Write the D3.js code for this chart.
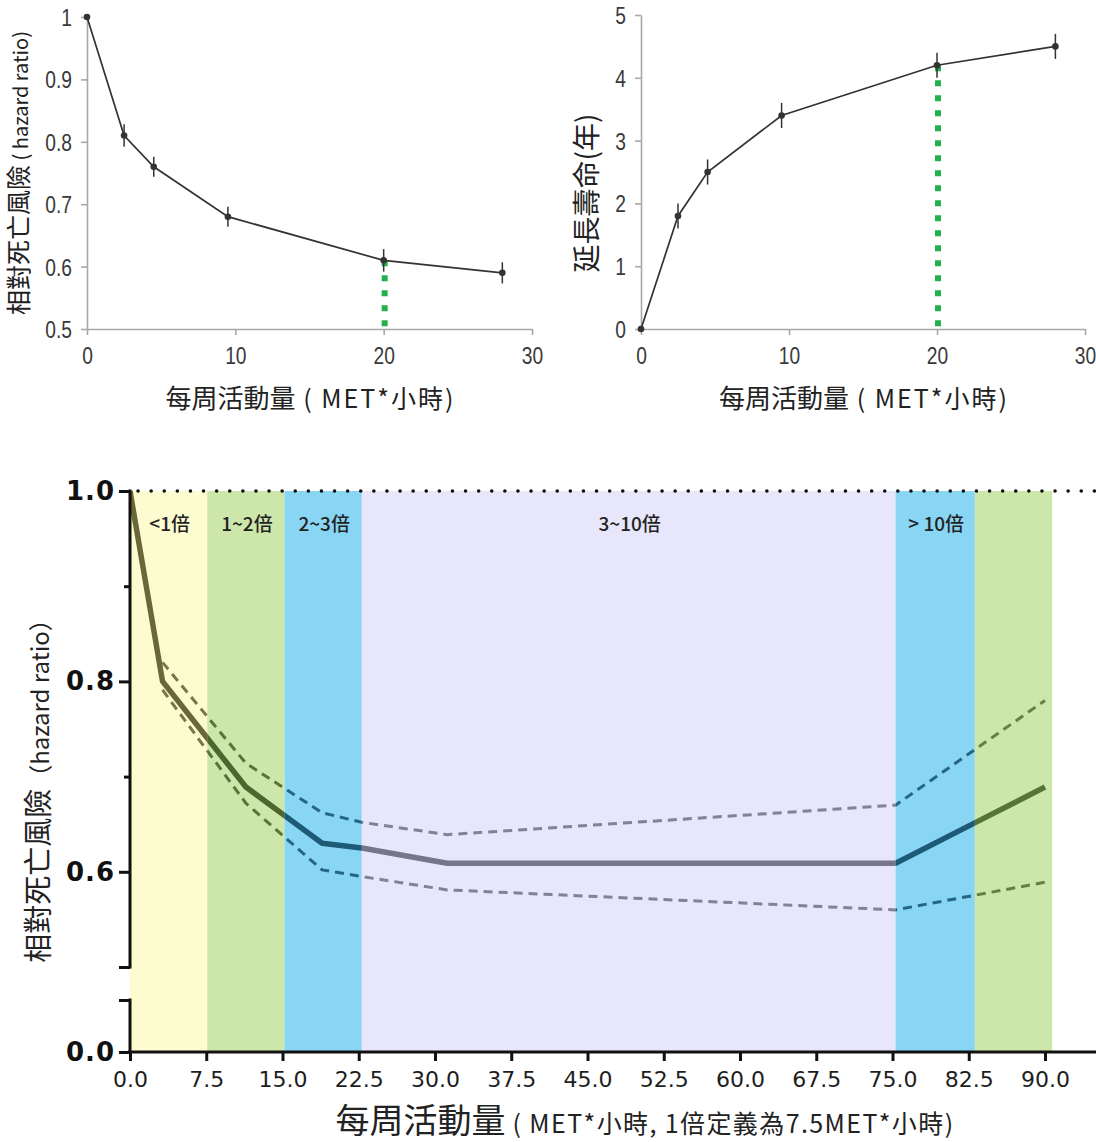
<!DOCTYPE html>
<html lang="zh-Hant">
<head>
<meta charset="UTF-8">
<title>每周活動量與死亡風險</title>
<style>
  body { margin: 0; padding: 0; background: #fff; overflow: hidden; }
  svg { display: block; }
  .cjk { font-family: "Noto Sans CJK TC", "Noto Sans", sans-serif; }
</style>
</head>
<body>
<script src="https://d3js.org/d3.v7.min.js"></script>
<script>
// --- top charts data ---
const metHours = [0, 2.5, 4.5, 9.5, 20, 28];
const hazardRatio = [1.0, 0.81, 0.76, 0.68, 0.61, 0.59];
const hazardErr = [0, 0.018, 0.016, 0.016, 0.018, 0.017];
const lifeGain = [0, 1.8, 2.5, 3.4, 4.2, 4.5];
const lifeErr = [0, 0.2, 0.2, 0.2, 0.2, 0.2];
const topXTicks = [0, 10, 20, 30];
const hazardTicks = [0.5, 0.6, 0.7, 0.8, 0.9, 1];
const lifeTicks = [0, 1, 2, 3, 4, 5];
const markMet = 20;

// --- bottom chart data ---
const doseX = [0, 3.2, 11.4, 18.9, 22.8, 31.2, 75.3, 90];
const doseHR = [1.0, 0.80, 0.689, 0.630, 0.625, 0.609, 0.609, 0.689];
const ciX = [3.2, 11.4, 18.9, 22.8, 31.2, 75.3, 90];
const ciUpper = [0.82, 0.714, 0.662, 0.652, 0.639, 0.67, 0.78];
const ciLower = [0.791, 0.672, 0.602, 0.595, 0.581, 0.56, 0.589];
const bandEdges = [0, 7.6, 15.2, 22.8, 75.3, 83.1, 90.7];
const bandLabels = ["<1倍", "1~2倍", "2~3倍", "3~10倍", "> 10倍", ""];
const bandColors = ["#fdfcd1", "#cde6a9", "#88d5f4", "#e7e6fa", "#88d5f4", "#cde6a9"];
const bandLineColors = ["#6a673a", "#4c662e", "#1d5a76", "#75758c", "#1d5a76", "#567638"];
const bottomXTicks = [0, 7.5, 15, 22.5, 30, 37.5, 45, 52.5, 60, 67.5, 75, 82.5, 90];
const bottomYTicks = [0, 0.1, 0.5, 0.6, 0.7, 0.8, 0.9, 1.0];
const bottomYLabeled = [0, 0.6, 0.8, 1.0];

const W = 1096, H = 1142;
const svg = d3.select('body').append('svg')
    .attr('width', W)
    .attr('height', H);

// small chart with error bars
function drawSmall(x, y, vals, errs, yTicks, yLabel) {
    const g = svg.append('g');

    const xAxis = g.append('g')
        .attr('transform', `translate(0,${y.range()[0]})`)
        .call(d3.axisBottom(x).tickValues(topXTicks).tickSize(6).tickPadding(12).tickSizeOuter(0));
    const yAxis = g.append('g')
        .attr('transform', `translate(${x.range()[0]},0)`)
        .call(d3.axisLeft(y).tickValues(yTicks).tickSize(6).tickPadding(10).tickSizeOuter(0).tickFormat(d3.format('')));

    [xAxis, yAxis].forEach(a => {
        a.select('.domain').attr('stroke', '#a8a8a8').attr('stroke-width', 1.6);
        a.selectAll('.tick line').attr('stroke', '#a8a8a8').attr('stroke-width', 1.6);
        a.selectAll('.tick text')
            .attr('font-family', '"Liberation Sans", sans-serif')
            .attr('font-size', 24)
            .attr('fill', '#3a3a3a');
    });
    // narrow digits like the original
    xAxis.selectAll('.tick text').attr('transform', 'scale(0.8,1)');
    yAxis.selectAll('.tick text')
        .attr('dy', '0.35em')
        .attr('x', -15 / 0.8)
        .attr('transform', 'scale(0.8,1)');

    // green marker at 20 MET-h
    const mi = metHours.indexOf(markMet);
    g.append('line')
        .attr('x1', x(markMet) + 1).attr('x2', x(markMet) + 1)
        .attr('y1', y(vals[mi])).attr('y2', y.range()[0])
        .attr('stroke', '#22b14c')
        .attr('stroke-width', 6)
        .attr('stroke-dasharray', '6,9');

    const line = d3.line()
        .x((d, i) => x(metHours[i]))
        .y(d => y(d));
    g.append('path')
        .datum(vals)
        .attr('d', line)
        .attr('fill', 'none')
        .attr('stroke', '#333')
        .attr('stroke-width', 1.7);

    g.selectAll('.err')
        .data(vals)
        .enter()
        .append('line')
        .attr('x1', (d, i) => x(metHours[i]))
        .attr('x2', (d, i) => x(metHours[i]))
        .attr('y1', (d, i) => y(d + errs[i]))
        .attr('y2', (d, i) => y(d - errs[i]))
        .attr('stroke', '#333')
        .attr('stroke-width', 1.5);

    g.selectAll('.dot')
        .data(vals)
        .enter()
        .append('circle')
        .attr('cx', (d, i) => x(metHours[i]))
        .attr('cy', d => y(d))
        .attr('r', 3.3)
        .attr('fill', '#333');

    // x title
    const cx = (x.range()[0] + x.range()[1]) / 2 + 1;
    const xt = g.append('text')
        .attr('class', 'cjk')
        .attr('x', cx)
        .attr('y', 408)
        .attr('text-anchor', 'middle')
        .attr('fill', '#222');
    xt.append('tspan').attr('font-size', 26).text('每周活動量');
    xt.append('tspan').attr('font-size', 25).attr('letter-spacing', 2).text(' ( MET*小時)');

    // y title
    const yt = g.append('text')
        .attr('class', 'cjk')
        .attr('transform', `translate(${yLabel.x},${yLabel.y}) rotate(-90)`)
        .attr('text-anchor', 'middle')
        .attr('fill', '#222');
    yLabel.parts.forEach(p => yt.append('tspan').attr('font-size', p[1]).text(p[0]));
}

const xTL = d3.scaleLinear().domain([0, 30]).range([87, 532]);
const yTL = d3.scaleLinear().domain([0.5, 1]).range([329, 17]);
drawSmall(xTL, yTL, hazardRatio, hazardErr, hazardTicks,
    { x: 28, y: 173, parts: [['相對死亡風險', 25], [' ( hazard ratio)', 20]] });

const xTR = d3.scaleLinear().domain([0, 30]).range([641, 1085]);
const yTR = d3.scaleLinear().domain([0, 5]).range([329, 15]);
drawSmall(xTR, yTR, lifeGain, lifeErr, lifeTicks,
    { x: 597, y: 193, parts: [['延長壽命(年)', 28]] });

// --- bottom chart ---
const xB = d3.scaleLinear().domain([0, 90]).range([130, 1045]);
const yB = d3.scaleLinear().domain([0, 0.1, 0.5, 1.0]).range([1052, 1000, 967, 491]);
const gB = svg.append('g');

const bands = bandEdges.slice(0, -1).map((d, i) => ({ x0: d, x1: bandEdges[i + 1], i }));
gB.selectAll('.band')
    .data(bands)
    .enter()
    .append('rect')
    .attr('x', d => xB(d.x0))
    .attr('width', d => xB(d.x1) - xB(d.x0))
    .attr('y', yB(1.0))
    .attr('height', yB(0) - yB(1.0))
    .attr('fill', d => bandColors[d.i]);

const defs = svg.append('defs');
bands.forEach(b => {
    defs.append('clipPath').attr('id', 'band' + b.i)
        .append('rect')
        .attr('x', xB(b.x0)).attr('width', xB(b.x1) - xB(b.x0))
        .attr('y', 0).attr('height', H);
});

const lineB = d3.line().x(d => xB(d[0])).y(d => yB(d[1]));
const mainPts = doseX.map((d, i) => [d, doseHR[i]]);
const upPts = ciX.map((d, i) => [d, ciUpper[i]]);
const loPts = ciX.map((d, i) => [d, ciLower[i]]);

bands.forEach(b => {
    const gc = gB.append('g').attr('clip-path', `url(#band${b.i})`);
    [upPts, loPts].forEach(pts => {
        gc.append('path')
            .datum(pts)
            .attr('d', lineB)
            .attr('fill', 'none')
            .attr('stroke', bandLineColors[b.i])
            .attr('stroke-opacity', 0.9)
            .attr('stroke-width', 3)
            .attr('stroke-dasharray', '9,6');
    });
    gc.append('path')
        .datum(mainPts)
        .attr('d', lineB)
        .attr('fill', 'none')
        .attr('stroke', bandLineColors[b.i])
        .attr('stroke-width', 5.5)
        .attr('stroke-linejoin', 'round');
});

gB.selectAll('.blabel')
    .data(bands)
    .enter()
    .append('text')
    .attr('class', 'cjk')
    .attr('x', d => (xB(d.x0) + xB(d.x1)) / 2 + 1)
    .attr('y', 531)
    .attr('text-anchor', 'middle')
    .attr('font-size', 19)
    .attr('font-weight', 500)
    .attr('fill', '#222')
    .text(d => bandLabels[d.i]);

// reference line at 1.0
gB.append('line')
    .attr('x1', xB(0) + 8).attr('x2', W)
    .attr('y1', yB(1.0)).attr('y2', yB(1.0))
    .attr('stroke', '#111')
    .attr('stroke-width', 3.5)
    .attr('stroke-linecap', 'round')
    .attr('stroke-dasharray', '0.1,13');

// x axis
const xAxB = gB.append('g')
    .attr('transform', `translate(0,${yB(0)})`)
    .call(d3.axisBottom(xB).tickValues(bottomXTicks).tickSize(9).tickPadding(10).tickSizeOuter(0).tickFormat(d3.format('.1f')));
xAxB.select('.domain').remove();
xAxB.selectAll('.tick line').attr('stroke', '#111').attr('stroke-width', 3);
xAxB.selectAll('.tick text')
    .attr('font-family', '"DejaVu Sans", sans-serif')
    .attr('font-size', 22)
    .attr('fill', '#1e1e1e');
gB.append('line')
    .attr('x1', xB(0) - 2).attr('x2', W)
    .attr('y1', yB(0)).attr('y2', yB(0))
    .attr('stroke', '#111').attr('stroke-width', 3);

// y axis with break
const yAxB = gB.append('g')
    .attr('transform', `translate(${xB(0)},0)`)
    .call(d3.axisLeft(yB).tickValues(bottomYTicks).tickSize(11).tickPadding(4).tickSizeOuter(0)
        .tickFormat(d => bottomYLabeled.includes(d) ? d3.format('.1f')(d) : ''));
yAxB.select('.domain').remove();
yAxB.selectAll('.tick line')
    .attr('stroke', '#111').attr('stroke-width', 3)
    .attr('x2', d => (d === 0.9 || d === 0.7) ? -6 : -11);
yAxB.selectAll('.tick text')
    .attr('font-family', '"DejaVu Sans", sans-serif')
    .attr('font-weight', 'bold')
    .attr('font-size', 26)
    .attr('letter-spacing', 1)
    .attr('fill', '#111');
[[1.0, 0.5], [0.1, 0]].forEach(seg => {
    gB.append('line')
        .attr('x1', xB(0)).attr('x2', xB(0))
        .attr('y1', yB(seg[0]) - 1.5).attr('y2', yB(seg[1]) + 1.5)
        .attr('stroke', '#111').attr('stroke-width', 3);
});

// titles
const xtB = gB.append('text')
    .attr('class', 'cjk')
    .attr('x', 645)
    .attr('y', 1133)
    .attr('text-anchor', 'middle')
    .attr('fill', '#222');
xtB.append('tspan').attr('font-size', 34).text('每周活動量');
xtB.append('tspan').attr('font-size', 25).attr('letter-spacing', 1.4).text(' ( MET*小時, 1倍定義為7.5MET*小時)');

const ytB = gB.append('text')
    .attr('class', 'cjk')
    .attr('transform', 'translate(49,785) rotate(-90)')
    .attr('text-anchor', 'middle')
    .attr('fill', '#222');
ytB.append('tspan').attr('font-size', 29).text('相對死亡風險');
ytB.append('tspan').attr('font-size', 24).text('（hazard ratio）');
</script>
</body>
</html>
